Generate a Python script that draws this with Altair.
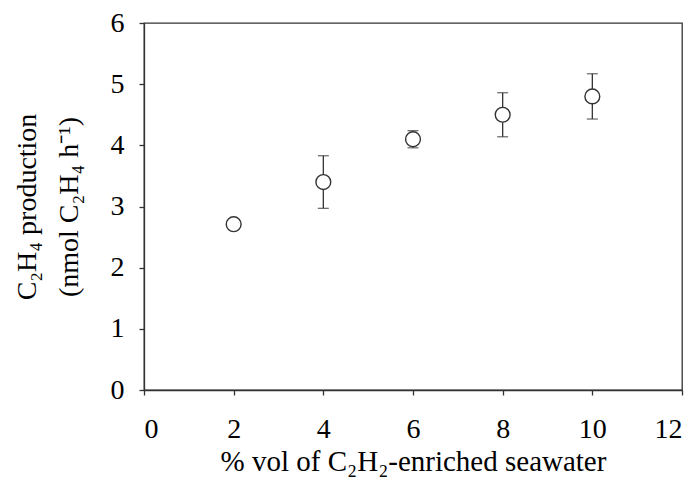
import altair as alt
import pandas as pd

# data
vol = [2, 4, 6, 8, 10]
prod = [2.71, 3.40, 4.10, 4.50, 4.80]
err = [0.0, 0.43, 0.14, 0.36, 0.37]

x_ticks = [0, 2, 4, 6, 8, 10, 12]
y_ticks = [0, 1, 2, 3, 4, 5, 6]

df = pd.DataFrame({"vol": vol, "prod": prod, "err": err})
df["lo"] = df["prod"] - df["err"]
df["hi"] = df["prod"] + df["err"]
df_err = df[df["err"] > 0]

FONT = "Liberation Serif"
LINE = "#333333"

xs = alt.Scale(domain=[0, 12], nice=False)
ys = alt.Scale(domain=[0, 6], nice=False)

x_axis = alt.Axis(
    values=x_ticks, format="d", title="% vol of C₂H₂-enriched seawater",
    labelPadding=20, titleBaseline="alphabetic", titleY=80, titleFontSize=29,
)
y_axis = alt.Axis(
    values=y_ticks, format="d", title=["C₂H₄ production", "(nmol C₂H₄ h⁻¹)"],
    labelPadding=15, titleX=-103, titleLineHeight=42,
)

base = alt.Chart(df)

rules = alt.Chart(df_err).mark_rule(color=LINE, strokeWidth=1.3).encode(
    x=alt.X("vol:Q", scale=xs, axis=x_axis),
    y=alt.Y("lo:Q", scale=ys, axis=y_axis),
    y2="hi:Q",
)
caps_hi = alt.Chart(df_err).mark_tick(
    orient="horizontal", size=11, thickness=1.3, color=LINE
).encode(x=alt.X("vol:Q", scale=xs), y=alt.Y("hi:Q", scale=ys))
caps_lo = alt.Chart(df_err).mark_tick(
    orient="horizontal", size=11, thickness=1.3, color=LINE
).encode(x=alt.X("vol:Q", scale=xs), y=alt.Y("lo:Q", scale=ys))

points = base.mark_point(
    shape="circle", size=220, filled=True, fill="white",
    stroke=LINE, strokeWidth=1.4, opacity=1,
).encode(x=alt.X("vol:Q", scale=xs), y=alt.Y("prod:Q", scale=ys))

chart = (
    alt.layer(rules, caps_hi, caps_lo, points)
    .properties(
        width=538, height=367,
        autosize=alt.AutoSizeParams(type="none"),
        padding={"left": 136, "top": 15, "right": 10, "bottom": 90},
    )
    .configure_view(stroke=LINE, strokeWidth=1.3)
    .configure_axis(
        grid=False,
        domainColor=LINE, domainWidth=1.3,
        tickColor=LINE, tickWidth=1.3, tickSize=5,
        labelFont=FONT, labelFontSize=28, labelColor="black",
        titleFont=FONT, titleFontSize=28, titleColor="black",
        titleFontWeight="normal",
    )
)

chart.save("out.html", embed_options={"renderer": "svg", "actions": False})
